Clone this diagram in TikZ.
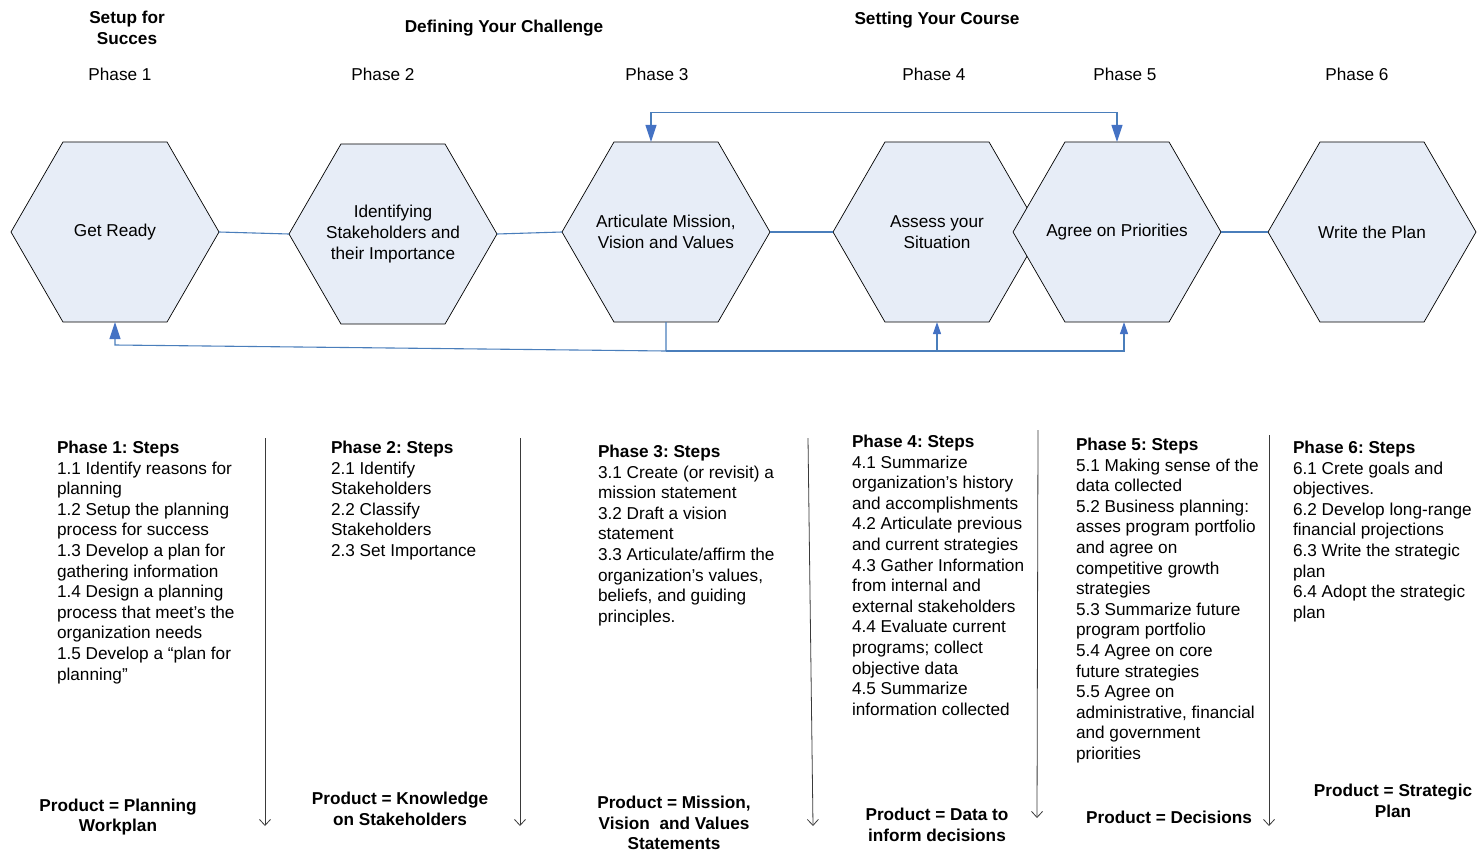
\documentclass[tikz,border=0pt]{standalone}
\usepackage{fontspec}
\setmainfont{Liberation Sans}
\usetikzlibrary{shapes.geometric,arrows.meta}

\definecolor{hexfill}{HTML}{E7EDF7}
\definecolor{linkblue}{HTML}{4A7EBB}
\definecolor{tipblue}{HTML}{4472C4}
\definecolor{rulegrey}{HTML}{3A3A3A}

\begin{document}
\frenchspacing
\begin{tikzpicture}[x=1pt,y=-1pt,
  every node/.style={inner sep=0pt, outer sep=0pt},
  body/.style={font=\fontsize{17.2}{20.6}\selectfont},
  boldbody/.style={font=\fontsize{17.2}{20.6}\selectfont\bfseries},
  % hexagon of fixed size; its caption is set as a centred label
  hexa/.style={regular polygon, regular polygon sides=6,
    minimum size=208pt, draw=black, line width=0.7pt, fill=hexfill,
    label={[body, align=center]center:#1}},
  link/.style={draw=linkblue, line width=1.1pt},
  bigtip/.style={-{Triangle[length=17pt,width=11pt,fill=tipblue,color=tipblue]}},
  bigboth/.style={{Triangle[length=17pt,width=11pt,fill=tipblue,color=tipblue]}-{Triangle[length=17pt,width=11pt,fill=tipblue,color=tipblue]}},
  smalltip/.style={-{Triangle[length=12pt,width=8pt,fill=tipblue,color=tipblue]}},
  rule/.style={draw=rulegrey, line width=0.8pt, -{Straight Barb[length=6pt,width=11pt]}},
  steps/.style={body, anchor=north west, align=left},
  product/.style={boldbody, align=center},
  head/.style={font=\fontsize{17.2}{21}\selectfont\bfseries, align=center},
  phase/.style={body}
]
\useasboundingbox (0,0) rectangle (1482,851);

% section headings and phase numbers
\node[head] (hd1) at (127,28) {Setup for\\Succes};
\node[head] (hd2) at (504,28) {Defining Your Challenge};
\node[head] (hd3) at (937,20) {Setting Your Course};
\node[phase] (ph1) at (120,74) {Phase 1};
\node[phase] (ph2) at (383,74) {Phase 2};
\node[phase] (ph3) at (657,74) {Phase 3};
\node[phase] (ph4) at (934,74) {Phase 4};
\node[phase] (ph5) at (1125,74) {Phase 5};
\node[phase] (ph6) at (1357,74) {Phase 6};

% the six phase hexagons (phase 5 drawn over phase 4)
\node[hexa={Get Ready}] (h1) at (115,232) {};
\node[hexa={Identifying\\Stakeholders and\\their Importance}] (h2) at (393,234) {};
\node[hexa={Articulate Mission,\\Vision and Values}] (h3) at (666,232) {};
\node[hexa={Assess your\\Situation}] (h4) at (937,232) {};
\node[hexa={Agree on Priorities}] (h5) at (1117,232) {};
\node[hexa={Write the Plan}] (h6) at (1372,232) {};

% straight links between neighbours
\draw[link] (h1.east) -- (h2.west);
\draw[link] (h2.east) -- (h3.west);
\draw[link] (h3.east) -- (h4.west);
\draw[link] (h5.east) -- (h6.west);

% loop over the top between phases 3 and 5
\draw[link, bigboth] ([xshift=-15pt]h3.north) -- ++(0,-29) -| (h5.north);

% feedback loop underneath
\coordinate (j3) at (666,351);
\coordinate (j1) at (115,345);
\coordinate (j5) at (1124,351);
\draw[link, bigtip] (h3.south) -- (j3) -- (j1) -- (h1.south);
\draw[link, smalltip] (j3) -- (j5) -- ([xshift=7pt]h5.south);
\draw[link, smalltip] (h4.south |- j3) -- (h4.south);

% step lists
\node[steps] (s1) at (57,441) {\textbf{Phase 1: Steps}\\1.1 Identify reasons for\\planning\\1.2 Setup the planning\\process for success\\1.3 Develop a plan for\\gathering information\\1.4 Design a planning\\process that meet’s the\\organization needs\\1.5 Develop a “plan for\\planning”};
\node[steps] (s2) at (331,441) {\textbf{Phase 2: Steps}\\2.1 Identify\\Stakeholders\\2.2 Classify\\Stakeholders\\2.3 Set Importance};
\node[steps] (s3) at (598,445) {\textbf{Phase 3: Steps}\\3.1 Create (or revisit) a\\mission statement\\3.2 Draft a vision\\statement\\3.3 Articulate/affirm the\\organization’s values,\\beliefs, and guiding\\principles.};
\node[steps] (s4) at (852,435) {\textbf{Phase 4: Steps}\\4.1 Summarize\\organization’s history\\and accomplishments\\4.2 Articulate previous\\and current strategies\\4.3 Gather Information\\from internal and\\external stakeholders\\4.4 Evaluate current\\programs; collect\\objective data\\4.5 Summarize\\information collected};
\node[steps] (s5) at (1076,438) {\textbf{Phase 5: Steps}\\5.1 Making sense of the\\data collected\\5.2 Business planning:\\asses program portfolio\\and agree on\\competitive growth\\strategies\\5.3 Summarize future\\program portfolio\\5.4 Agree on core\\future strategies\\5.5 Agree on\\administrative, financial\\and government\\priorities};
\node[steps] (s6) at (1293,441) {\textbf{Phase 6: Steps}\\6.1 Crete goals and\\objectives.\\6.2 Develop long-range\\financial projections\\6.3 Write the strategic\\plan\\6.4 Adopt the strategic\\plan};

% column dividers
\coordinate (r1t) at (265,438); \coordinate (r1b) at (265,826);
\coordinate (r2t) at (520,438); \coordinate (r2b) at (520,826);
\coordinate (r3t) at (808,438); \coordinate (r3b) at (813,826);
\coordinate (r4t) at (1038,430); \coordinate (r4b) at (1037,818);
\coordinate (r5t) at (1269,435); \coordinate (r5b) at (1269,826);
\draw[rule] (r1t) -- (r1b);
\draw[rule] (r2t) -- (r2b);
\draw[rule] (r3t) -- (r3b);
\draw[rule] (r4t) -- (r4b);
\draw[rule] (r5t) -- (r5b);

% products of each phase
\node[product] (p1) at (118,817) {Product = Planning\\Workplan};
\node[product] (p2) at (400,809) {Product = Knowledge\\on Stakeholders};
\node[product] (p3) at (674,823) {Product = Mission,\\Vision\ \ and Values\\Statements};
\node[product] (p4) at (937,825) {Product = Data to\\inform decisions};
\node[product] (p5) at (1169,817) {Product = Decisions};
\node[product] (p6) at (1393,801) {Product = Strategic\\Plan};
\end{tikzpicture}
\end{document}
